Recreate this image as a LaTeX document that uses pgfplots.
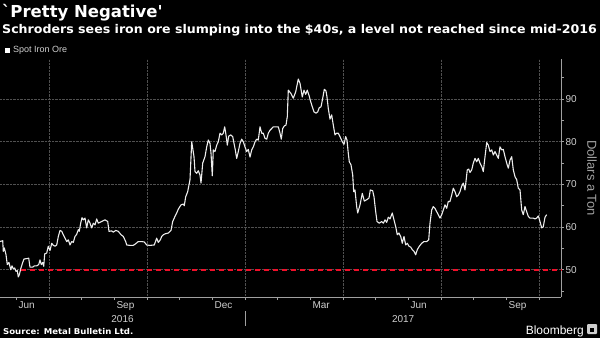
\documentclass[border=0pt]{standalone}
\usepackage{fontspec}
\setmainfont{Liberation Sans}
\newfontfamily\djv{DejaVu Sans}
\usepackage{graphicx}
\usepackage{pgfplots}
\pgfplotsset{compat=1.18}
\usepackage{pgfplotstable}

\definecolor{redline}{HTML}{F0102A}
\definecolor{gridc}{HTML}{505050}
\definecolor{axisc}{HTML}{A0A0A0}
\definecolor{tickc}{HTML}{CFCFCF}
\definecolor{linec}{HTML}{EDEDED}

% x = months since 1 Jan 2016 (6 = 1 Jul 2016, 12 = 1 Jan 2017), y = US$ per ton
\pgfplotstableread{
m v
4.500 56.6
4.583 56.8
4.601 54.3
4.632 55.1
4.684 53.5
4.723 51.2
4.775 51.7
4.828 50.0
4.867 50.9
4.907 50.2
4.950 50.4
4.990 49.6
5.030 49.8
5.060 48.3
5.091 48.8
5.134 50.2
5.195 51.7
5.235 52.5
5.317 52.6
5.379 52.7
5.418 50.6
5.501 50.6
5.550 50.9
5.623 50.9
5.685 51.2
5.724 52.3
5.764 51.2
5.807 51.7
5.838 50.8
5.868 53.7
5.929 53.9
5.978 55.5
6.031 54.5
6.083 56.2
6.132 55.7
6.184 55.5
6.236 55.8
6.285 57.8
6.337 59.2
6.389 59.0
6.438 58.2
6.490 57.4
6.542 56.6
6.591 57.0
6.643 55.8
6.695 56.6
6.744 56.4
6.796 57.8
6.848 58.3
6.897 59.4
6.927 59.0
6.970 60.9
7.010 62.2
7.050 61.7
7.102 62.1
7.154 59.8
7.203 61.7
7.255 60.9
7.307 59.8
7.356 60.9
7.408 60.5
7.460 61.9
7.509 60.9
7.613 61.3
7.714 61.7
7.797 61.3
7.836 59.0
7.919 59.1
7.968 58.8
8.042 59.2
8.121 59.0
8.204 58.2
8.274 57.8
8.348 56.6
8.378 55.8
8.479 55.7
8.580 55.7
8.654 56.1
8.733 56.6
8.837 56.6
8.917 56.5
8.990 55.8
9.092 55.7
9.223 55.8
9.296 57.4
9.345 56.4
9.407 57.0
9.450 57.8
9.499 58.2
9.551 58.4
9.652 58.6
9.734 59.2
9.786 61.3
9.857 62.5
9.909 63.3
9.958 64.2
10.040 65.2
10.111 65.4
10.141 65.0
10.184 67.1
10.245 68.3
10.316 71.1
10.368 80.0
10.438 76.5
10.469 73.0
10.521 72.6
10.570 73.2
10.622 72.2
10.653 70.3
10.705 75.0
10.775 76.5
10.827 78.8
10.876 80.4
10.928 79.6
10.959 77.3
10.998 72.0
11.029 78.1
11.081 77.7
11.133 79.2
11.182 80.0
11.234 82.0
11.286 81.6
11.335 82.0
11.378 83.5
11.418 81.6
11.458 79.2
11.500 81.3
11.562 81.6
11.623 81.2
11.663 79.6
11.702 78.1
11.745 76.1
11.794 77.7
11.846 79.6
11.898 80.6
11.947 80.0
11.999 78.8
12.051 77.7
12.100 78.2
12.153 76.4
12.205 78.1
12.254 78.8
12.306 80.0
12.357 80.6
12.406 80.4
12.459 83.5
12.511 82.0
12.560 82.0
12.612 80.8
12.664 80.6
12.713 82.0
12.765 82.7
12.817 83.1
12.866 83.5
12.948 83.5
13.019 83.5
13.071 82.0
13.110 80.6
13.153 83.1
13.202 83.7
13.254 83.9
13.294 85.9
13.325 92.1
13.408 91.3
13.478 90.2
13.551 91.7
13.631 94.7
13.683 93.7
13.753 90.5
13.805 92.1
13.857 91.1
13.906 92.1
13.958 90.9
14.010 89.4
14.059 88.2
14.111 87.0
14.173 86.7
14.225 87.0
14.274 88.0
14.326 88.2
14.378 90.2
14.427 92.3
14.479 91.9
14.509 90.5
14.549 87.8
14.601 85.3
14.653 86.3
14.702 83.9
14.754 81.6
14.806 82.0
14.855 82.0
14.907 81.2
14.978 80.0
15.030 79.4
15.082 81.2
15.121 80.4
15.161 77.3
15.192 75.3
15.244 74.6
15.296 72.2
15.326 68.3
15.366 68.7
15.418 64.8
15.449 63.3
15.520 65.2
15.590 67.9
15.651 66.1
15.724 66.4
15.795 66.8
15.835 68.7
15.908 68.5
15.948 67.1
16.000 63.6
16.040 61.3
16.110 60.9
16.184 61.3
16.233 60.9
16.285 61.7
16.337 61.1
16.386 62.3
16.438 61.9
16.508 63.3
16.560 61.7
16.612 60.1
16.661 58.2
16.713 58.6
16.765 57.8
16.814 56.2
16.866 57.8
16.918 55.8
16.967 56.2
17.019 55.5
17.071 55.3
17.120 54.7
17.172 54.3
17.224 53.5
17.273 54.7
17.335 55.5
17.408 56.2
17.478 56.6
17.561 56.6
17.622 57.0
17.662 60.9
17.714 64.0
17.763 64.8
17.815 64.4
17.867 63.6
17.916 62.9
17.968 62.1
18.020 62.9
18.069 64.0
18.121 65.2
18.173 64.4
18.222 66.0
18.274 66.0
18.326 67.5
18.375 69.1
18.427 68.3
18.479 67.1
18.528 67.5
18.580 68.3
18.632 69.6
18.681 70.3
18.733 68.7
18.764 70.7
18.803 73.4
18.846 73.6
18.887 72.8
18.939 73.4
18.988 75.0
19.040 76.1
19.092 75.3
19.141 76.1
19.193 75.0
19.245 74.2
19.294 73.0
19.346 76.5
19.398 79.8
19.447 79.2
19.499 77.7
19.551 78.1
19.600 76.9
19.652 77.7
19.704 76.9
19.753 76.1
19.805 78.8
19.857 78.1
19.906 78.2
19.958 76.5
20.010 75.0
20.059 73.8
20.111 75.7
20.163 76.5
20.212 73.4
20.264 71.8
20.316 71.1
20.365 69.1
20.417 68.7
20.469 64.0
20.518 62.9
20.570 64.8
20.622 63.6
20.671 62.5
20.723 62.1
20.824 62.1
20.876 61.9
20.928 62.1
20.977 62.6
21.029 61.3
21.081 59.8
21.130 60.1
21.182 62.3
21.234 62.9
}\ironore

\begin{document}
\begin{tikzpicture}[x=1pt,y=1pt]
\fill[black] (0,0) rectangle (600,338);
\useasboundingbox (0,0) rectangle (600,338);

% titles
\node[anchor=base west, inner sep=0, text=white, font=\djv\bfseries\fontsize{16.5}{18}\selectfont]
  at (2,320) {\symbol{96}Pretty Negative\symbol{39}};
\node[anchor=base west, inner sep=0, text=white, font=\djv\bfseries\fontsize{12}{14}\selectfont]
  at (2,304) {\scalebox{1.05}[1.0]{Schroders sees iron ore slumping into the \$40s, a level not reached since mid-2016}};

% legend
\fill[white] (5,285) rectangle (10,290);
\node[anchor=base west, inner sep=0, text=tickc, font=\fontsize{9}{10}\selectfont]
  at (13,285) {Spot Iron Ore};

\begin{axis}[
  at={(0pt,41pt)}, anchor=south west,
  width=561pt, height=238pt, scale only axis,
  xmin=4.5, xmax=21.672, ymin=43.6, ymax=99.4,
  axis x line*=bottom, axis y line*=right,
  axis line style={draw=axisc, line width=0.8pt, -},
  xtick={6,9,12,15,18,21},
  minor xtick={5,7,8,10,11,13,14,16,17,19,20},
  xticklabels={},
  ytick={50,60,70,80,90},
  minor ytick={45,55,65,75,85,95},
  tick style={draw=axisc, line width=0.6pt},
  major tick length=3pt, minor tick length=3pt,
  tick align=outside,
  grid=major,
  major grid style={draw=gridc, densely dotted, line width=0.5pt},
  /pgf/number format/assume math mode=true,
  yticklabel style={text=tickc, font=\fontsize{10}{12}\selectfont, xshift=-2pt},
  clip=false,
]
\addplot[linec, line width=1.1pt, line join=round] table[x=m,y=v]{\ironore};
\addplot[redline, line width=1.6pt, dash pattern=on 5pt off 4pt] coordinates {(5.13,50) (21.672,50)};

% month labels
\foreach \mm/\lab in {5/Jun,8/Sep,11/Dec,14/Mar,17/Jun,20/Sep}{
  \edef\tmp{\noexpand\node[anchor=base west, inner sep=0, text=tickc, font=\noexpand\fontsize{10}{12}\noexpand\selectfont, xshift=2pt, yshift=-11pt] at (axis cs:\mm,43.6) {\lab};}
  \tmp
}
\node[anchor=base, inner sep=0, text=tickc, font=\fontsize{10}{12}\selectfont, yshift=-25pt] at (axis cs:8.25,43.6) {2016};
\node[anchor=base, inner sep=0, text=tickc, font=\fontsize{10}{12}\selectfont, yshift=-25pt] at (axis cs:16.84,43.6) {2017};
\draw[axisc, line width=0.6pt] ([yshift=-14pt]axis cs:12,43.6) -- ([yshift=-29pt]axis cs:12,43.6);
\end{axis}

% y label
\node[rotate=-90, anchor=center, inner sep=0, text=axisc, font=\fontsize{13}{14}\selectfont] at (592,160) {Dollars a Ton};

% footer
\node[anchor=base west, inner sep=0, text=white, font=\djv\bfseries\fontsize{8}{9}\selectfont] at (3,4) {\scalebox{1.07}[1.0]{Source: Metal Bulletin Ltd.}};
\node[anchor=base east, inner sep=0, text=white, font=\fontsize{12}{13}\selectfont] at (584,4) {Bloomberg};
\fill[tickc, rounded corners=1pt] (587,4) rectangle (597,14);
\fill[black] (590,6) rectangle (594,10);
\end{tikzpicture}
\end{document}
